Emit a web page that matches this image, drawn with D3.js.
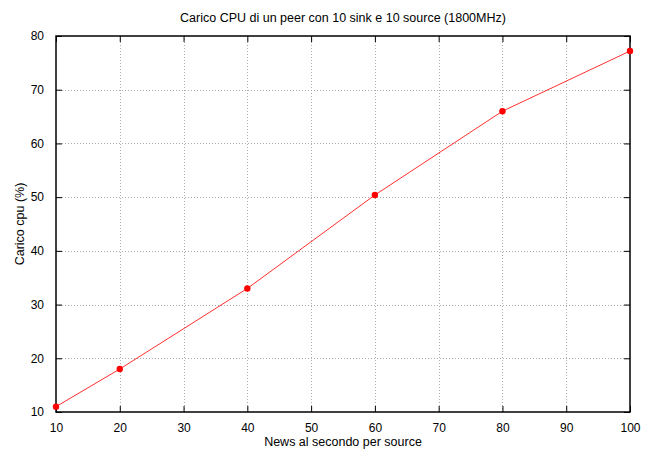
<!DOCTYPE html>
<html><head><meta charset="utf-8">
<script src="https://cdn.jsdelivr.net/npm/d3@7"></script>
<style>body{margin:0;background:#fff;} text{font-family:"Liberation Sans",Arial,sans-serif;}</style>
</head><body>
<svg id="c" width="652" height="450"></svg>
<script>
const newsPerSecond = [10, 20, 40, 60, 80, 100];
const cpuLoad = [11.0, 18.0, 33.0, 50.4, 66.0, 77.2];
const xTicks = [10, 20, 30, 40, 50, 60, 70, 80, 90, 100];
const yTicks = [10, 20, 30, 40, 50, 60, 70, 80];
const title = "Carico CPU di un peer con 10 sink e 10 source (1800MHz)";
const xLabel = "News al secondo per source";
const yLabel = "Carico cpu (%)";

(function () {
const svg = d3.select("#c");
const L = 56, R = 630, T = 36, B = 412;
const x = d3.scaleLinear().domain([10, 100]).range([L, R]);
const y = d3.scaleLinear().domain([10, 80]).range([B, T]);

// grid
const g = svg.append("g");
g.selectAll(".gx").data(xTicks.slice(1, -1)).join("line")
  .attr("x1", d => Math.round(x(d)) + 0.5).attr("x2", d => Math.round(x(d)) + 0.5)
  .attr("y1", T).attr("y2", B)
  .attr("stroke", "#aaa").attr("stroke-width", 1).attr("stroke-dasharray", "1,2");
g.selectAll(".gy").data(yTicks.slice(1, -1)).join("line")
  .attr("y1", d => Math.round(y(d)) + 0.5).attr("y2", d => Math.round(y(d)) + 0.5)
  .attr("x1", L).attr("x2", R)
  .attr("stroke", "#aaa").attr("stroke-width", 1).attr("stroke-dasharray", "1,2");

// axes with inward ticks
const ax = (gen, tr) => svg.append("g").attr("transform", tr).call(gen)
  .call(s => s.select(".domain").remove());
ax(d3.axisBottom(x).tickValues(xTicks).tickSizeInner(-6).tickSizeOuter(0).tickPadding(11), `translate(0,${B})`);
ax(d3.axisTop(x).tickValues(xTicks).tickSizeInner(-6).tickSizeOuter(0).tickFormat(""), `translate(0,${T})`);
ax(d3.axisLeft(y).tickValues(yTicks).tickSizeInner(-6).tickSizeOuter(0).tickPadding(12), `translate(${L},0)`);
ax(d3.axisRight(y).tickValues(yTicks).tickSizeInner(-6).tickSizeOuter(0).tickFormat(""), `translate(${R},0)`);
svg.selectAll(".tick line").attr("stroke", "#000");
svg.selectAll(".tick text").attr("font-size", 12).attr("fill", "#000")
  .style("font-family", "'Liberation Sans', Arial, sans-serif");

// frame
svg.append("rect").attr("x", L).attr("y", T).attr("width", R - L).attr("height", B - T)
  .attr("fill", "none").attr("stroke", "#000").attr("stroke-width", 1.5);

// line + points
const data = newsPerSecond.map((d, i) => ({x: d, y: cpuLoad[i]}));
svg.append("path").datum(data)
  .attr("d", d3.line().x(d => x(d.x)).y(d => y(d.y)))
  .attr("fill", "none").attr("stroke", "#ff3030").attr("stroke-width", 1);
svg.selectAll(".pt").data(data).join("circle")
  .attr("cx", d => x(d.x)).attr("cy", d => y(d.y)).attr("r", 3.2).attr("fill", "#f00");

// text
svg.append("text").attr("x", 343).attr("y", 22).attr("text-anchor", "middle")
  .attr("font-size", 12.5).text(title);
svg.append("text").attr("x", 343).attr("y", 446).attr("text-anchor", "middle")
  .attr("font-size", 12.5).text(xLabel);
svg.append("text").attr("transform", "translate(24,224) rotate(-90)").attr("text-anchor", "middle")
  .attr("font-size", 12.5).text(yLabel);
})();
</script>
</body></html>
